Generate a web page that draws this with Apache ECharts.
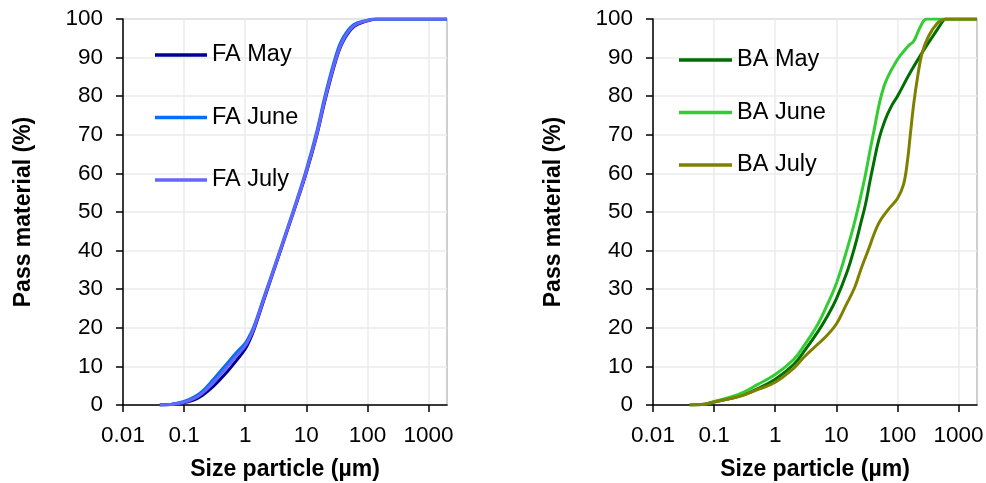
<!DOCTYPE html>
<html>
<head>
<meta charset="utf-8">
<title>Particle size distribution</title>
<script src="https://cdn.jsdelivr.net/npm/echarts@6/dist/echarts.min.js"></script>
<style>
  html, body { margin: 0; padding: 0; background: #fff; }
  #chart { width: 986px; height: 483px; }
</style>
</head>
<body>
<div id="chart"></div>
<script>
// Cumulative passing curves: [particle size (µm), pass material (%)]
const faMay = [[0.04,0],[0.06,0.1],[0.1,0.6],[0.15,1.4],[0.2,2.5],[0.3,4.8],[0.5,8.5],[0.7,11.3],[1,14.5],[1.2,17],[1.4,19.6],[2,27],[3,35.3],[5,45.7],[7,52.6],[10,60.2],[15,70.2],[20,78.6],[30,89],[40,94.2],[60,98],[100,99.5],[140,100],[2000,100]];
const faJune = [[0.04,0],[0.06,0.15],[0.1,0.9],[0.15,2.2],[0.2,3.6],[0.3,6.6],[0.5,10.7],[0.7,13.4],[1,16],[1.2,18.2],[1.4,20.5],[2,27.7],[3,35.8],[5,46.2],[7,53.2],[10,61],[15,71.2],[20,79.8],[30,90.2],[40,95.2],[60,98.6],[100,99.7],[130,100],[2000,100]];
const faJuly = [[0.04,0],[0.06,0.1],[0.1,0.7],[0.15,1.8],[0.2,3.1],[0.3,5.8],[0.5,9.8],[0.7,12.5],[1,15.3],[1.2,17.6],[1.4,20],[2,27.3],[3,35.5],[5,45.9],[7,52.8],[10,60.5],[15,70.5],[20,79],[30,89.3],[40,94.5],[60,98.2],[100,99.6],[140,100],[2000,100]];

const baMay = [[0.04,0],[0.07,0.2],[0.1,0.8],[0.2,1.8],[0.3,2.6],[0.5,4.1],[1,6.7],[2,10.5],[3,14],[5,19],[7,22.8],[10,27.5],[15,34.5],[20,41],[25,47],[30,52],[35,57.5],[40,62],[50,69],[63,73.9],[80,77.5],[100,80],[160,86],[270,92],[450,97.3],[570,99.7],[620,100],[2000,100]];
const baJune = [[0.04,0],[0.07,0.2],[0.1,0.9],[0.2,2.2],[0.3,3.3],[0.5,5.2],[1,7.9],[2,11.8],[3,15.5],[5,21],[7,25.8],[10,31.5],[14,38.8],[20,47.5],[28,57.5],[40,70],[60,82.5],[100,89.5],[150,93],[185,94.3],[237,98],[303,100],[2000,100]];
const baJuly = [[0.04,0],[0.07,0.2],[0.1,0.8],[0.2,1.8],[0.3,2.5],[0.5,3.9],[1,5.9],[2,9.5],[3,12.5],[5,15.8],[7,18],[10,21],[14,25.5],[20,30.5],[25,35],[33,40],[49,47],[72,50.8],[100,53.5],[125,57],[145,63],[162,70],[185,78.2],[214,85.1],[252,91.1],[324,95.6],[447,98.9],[540,99.7],[600,100],[2000,100]];

const sizeTicks = [0.01, 0.1, 1, 10, 100, 1000];
const xName = 'Size particle (µm)';
const yName = 'Pass material (%)';

const FONT = '"Liberation Sans", Arial, sans-serif';

const chart = echarts.init(document.getElementById('chart'), null, { renderer: 'canvas' });

function xAxis(gridIndex) {
  return {
    type: 'log',
    logBase: 10,
    gridIndex: gridIndex,
    min: 0.01,
    max: 2000,
    name: xName,
    nameLocation: 'middle',
    nameGap: 53,
    nameTextStyle: { fontFamily: FONT, fontSize: 23, fontWeight: 'bold', color: '#000' },
    axisLine: { show: true, onZero: false, lineStyle: { color: '#000', width: 1.5 } },
    axisTick: { show: true, length: 7, customValues: sizeTicks, lineStyle: { color: '#000', width: 1.5 } },
    axisLabel: {
      margin: 19,
      customValues: sizeTicks,
      fontFamily: FONT, fontSize: 22.5, color: '#000',
      formatter: function (v) {
        const e = Math.log10(v);
        return Math.abs(e - Math.round(e)) < 1e-6 ? String(sizeTicks[Math.round(e) + 2]) : '';
      }
    },
    splitLine: { show: true, lineStyle: { color: '#ebebeb', width: 1.5 } },
    minorTick: { show: false },
    minorSplitLine: { show: false }
  };
}

function yAxis(gridIndex) {
  return {
    type: 'value',
    gridIndex: gridIndex,
    min: 0,
    max: 100,
    interval: 10,
    name: yName,
    nameLocation: 'middle',
    nameGap: 88,
    nameTextStyle: { fontFamily: FONT, fontSize: 23, fontWeight: 'bold', color: '#000' },
    axisLine: { show: true, lineStyle: { color: '#000', width: 1.5 } },
    axisTick: { show: true, length: 7, lineStyle: { color: '#000', width: 1.5 } },
    axisLabel: { margin: 20, fontFamily: FONT, fontSize: 22.5, color: '#000' },
    splitLine: { show: true, lineStyle: { color: '#ebebeb', width: 1.5 } }
  };
}

function curve(name, data, color, idx) {
  return {
    name: name,
    type: 'line',
    xAxisIndex: idx,
    yAxisIndex: idx,
    data: data,
    symbol: 'none',
    smooth: 0.4,
    lineStyle: { color: color, width: 3 },
    itemStyle: { color: color },
    emphasis: { disabled: true },
    animation: false
  };
}

const legendText = { fontFamily: FONT, fontSize: 23.5, color: '#000', lineHeight: 22 };

const gridBase = { top: 19, width: 324, height: 386, show: true, borderColor: '#c0c0c0', borderWidth: 1.5, backgroundColor: 'transparent', outerBoundsMode: 'none', containLabel: false };

chart.setOption({
  backgroundColor: '#fff',
  animation: false,
  grid: [
    Object.assign({ left: 123 }, gridBase),
    Object.assign({ left: 653 }, gridBase)
  ],
  xAxis: [xAxis(0), xAxis(1)],
  yAxis: [yAxis(0), yAxis(1)],
  legend: [
    {
      data: ['FA May', 'FA June', 'FA July'],
      orient: 'vertical', left: 150, top: 38,
      icon: 'rect',
      itemWidth: 52, itemHeight: 3.5, itemGap: 38.5,
      textStyle: legendText, selectedMode: false
    },
    {
      data: ['BA May', 'BA June', 'BA July'],
      orient: 'vertical', left: 674, top: 43,
      icon: 'rect',
      itemWidth: 53, itemHeight: 3.5, itemGap: 28.5,
      textStyle: legendText, selectedMode: false
    }
  ],
  series: [
    curve('FA May', faMay, '#000090', 0),
    curve('FA June', faJune, '#0070f5', 0),
    curve('FA July', faJuly, '#6666ff', 0),
    curve('BA May', baMay, '#006e00', 1),
    curve('BA June', baJune, '#33cc33', 1),
    curve('BA July', baJuly, '#808000', 1)
  ]
});
</script>
</body>
</html>
